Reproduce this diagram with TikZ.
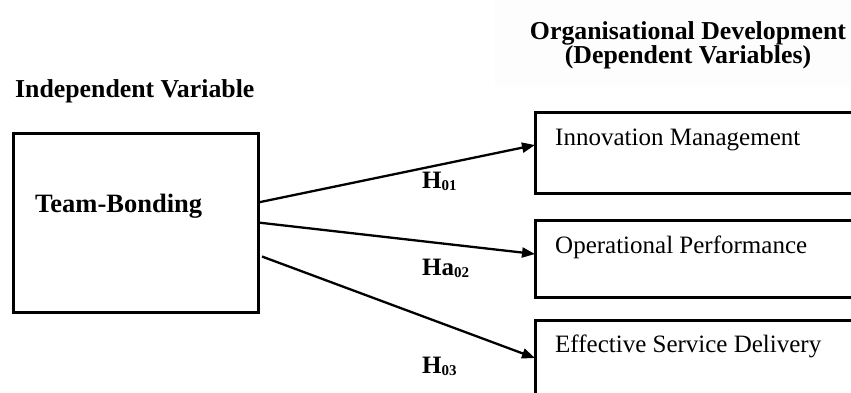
\documentclass[tikz,border=0pt]{standalone}
\usepackage{fontspec}
\setmainfont{Liberation Serif}
\usetikzlibrary{arrows.meta}
\newcommand{\hsub}[1]{{\fontsize{15}{15}\selectfont\raisebox{-2pt}{#1}}}
\begin{document}
\begin{tikzpicture}[x=1pt,y=-1pt,
  box/.style={draw, line width=3pt, rectangle, inner sep=0pt, outer sep=0pt, anchor=north west},
  conn/.style={line width=2.3pt, -{Triangle[length=13pt,width=10pt]}},
  lbl/.style={font=\fontsize{25}{30}\selectfont, inner sep=0pt, anchor=base west},
  head/.style={font=\bfseries\fontsize{25.8}{30}\selectfont, inner sep=0pt},
  hyp/.style={font=\bfseries\fontsize{25}{30}\selectfont, inner sep=0pt, anchor=base west}]
\useasboundingbox (0,0) rectangle (851,392);
\clip (0,0) rectangle (851,392);
\fill[gray!1.2] (495,0) rectangle (851,87);

% headings
\node[head, anchor=base west] (iv) at (15,97) {Independent Variable};
\node[head, anchor=base] (od1) at (688,39) {Organisational Development};
\node[head, anchor=base] (od2) at (688,63) {(Dependent Variables)};

% boxes
\node[box, minimum width=245pt, minimum height=179pt] (tb) at (13,133) {};
\node[head, anchor=base west, font=\bfseries\fontsize{26.5}{30}\selectfont] (tbt) at (35,212) {Team-Bonding};

\node[box, minimum width=330pt, minimum height=81pt] (im) at (535,112) {};
\node[lbl] (imt) at (555,145) {Innovation Management};
\node[box, minimum width=330pt, minimum height=77pt] (op) at (535,220) {};
\node[lbl] (opt) at (555,253) {Operational Performance};
\node[box, minimum width=330pt, minimum height=80pt] (es) at (535,320) {};
\node[lbl] (est) at (555,352) {Effective Service Delivery};

% connectors
\draw[conn] ([yshift=20pt]tb.east) -- ([yshift=7.5pt]im.west);
\draw[conn] (tb.east) -- ([yshift=4.5pt]op.west);
\draw[conn] ([xshift=4pt,yshift=-34pt]tb.east) -- ([yshift=2pt]es.west);

% hypothesis labels
\node[hyp] (h1) at (422,188) {H\hsub{01}};
\node[hyp] (h2) at (422,275) {Ha\hsub{02}};
\node[hyp] (h3) at (422,373) {H\hsub{03}};
\end{tikzpicture}
\end{document}
